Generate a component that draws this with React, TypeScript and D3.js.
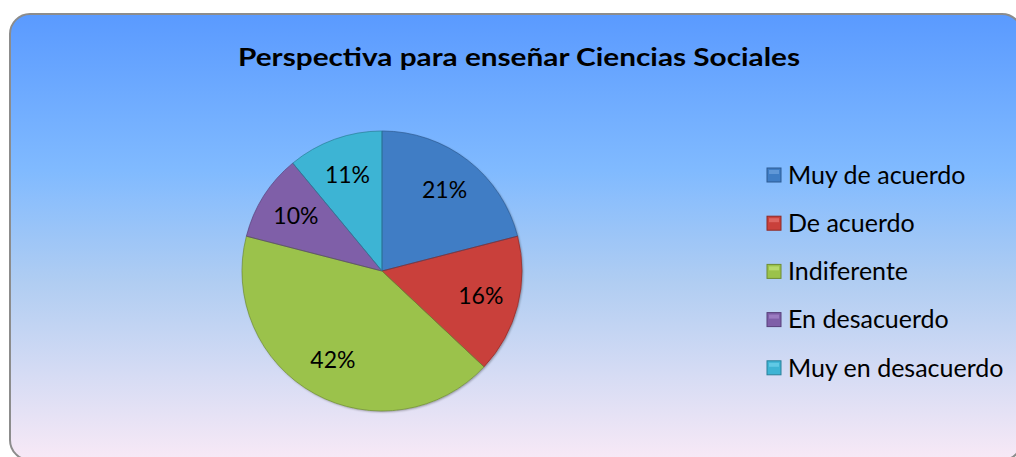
import React from "react";
import * as d3 from "d3";

const categories = ["Muy de acuerdo", "De acuerdo", "Indiferente", "En desacuerdo", "Muy en desacuerdo"];
const values = [21, 16, 42, 10, 11];
const labels = ["21%", "16%", "42%", "10%", "11%"];
const colors = ["#3F7DC5", "#C9403B", "#9BC24B", "#7F5FA8", "#3DB4D4"];
const lights = ["#6FA2DE", "#E57470", "#C2E27A", "#A688CC", "#6FD2EC"];
const darks = ["#2C5A92", "#8E2A27", "#6E8C33", "#58407A", "#2A8099"];
const title = "Perspectiva para enseñar Ciencias Sociales";

const W = 1016;
const H = 457;
const cx = 382;
const cy = 271;
const R = 140;

export default function App() {
  const pie = d3.pie<number>().sort(null).value((d) => d);
  const arcs = pie(values);
  const arc = d3.arc<d3.PieArcDatum<number>>().innerRadius(0).outerRadius(R);
  const labelArc = d3.arc<d3.PieArcDatum<number>>().innerRadius(102).outerRadius(102);
  const font = "Lato, 'Open Sans', sans-serif";
  return (
    <svg width={W} height={H} style={{ position: "absolute", left: 0, top: 0 }}>
      <defs>
        <linearGradient id="bg" x1="0" y1="0" x2="0" y2="1">
          <stop offset="0" stopColor="#5A9AFF" />
          <stop offset="0.35" stopColor="#80BAFF" />
          <stop offset="0.6" stopColor="#B0CDF2" />
          <stop offset="1" stopColor="#F8E9F6" />
        </linearGradient>
        {colors.map((c, i) => (
          <radialGradient key={i} id={`g${i}`} cx={cx} cy={cy} r={R} gradientUnits="userSpaceOnUse">
            <stop offset="0" stopColor={c} />
            <stop offset="0.9" stopColor={c} />
            <stop offset="0.955" stopColor={lights[i]} />
            <stop offset="1" stopColor={c} />
          </radialGradient>
        ))}
        <filter id="sh" x="-10%" y="-10%" width="120%" height="120%">
          <feDropShadow dx="1" dy="1" stdDeviation="1.2" floodColor="#000" floodOpacity="0.35" />
        </filter>
      </defs>
      <rect x={10} y={14} width={1012} height={446} rx={20} ry={20} fill="url(#bg)" stroke="#8C8C8C" strokeWidth={2} />
      <text x={519} y={66} textAnchor="middle" fontFamily={font} fontWeight="bold" fontSize={24} fill="#000" textLength={562} lengthAdjust="spacingAndGlyphs">
        {title}
      </text>
      <g filter="url(#sh)">
        {arcs.map((a, i) => (
          <path key={i} d={arc(a) || ""} transform={`translate(${cx},${cy})`} fill={`url(#g${i})`} />
        ))}
      </g>
      <g transform={`translate(${cx},${cy})`}>
        {arcs.map((a, i) => (
          <path key={i} d={arc(a) || ""} fill="none" stroke={darks[i]} strokeOpacity={0.7} strokeWidth={1} />
        ))}
        {arcs.map((a, i) => {
          const [x, y] = labelArc.centroid(a);
          return (
            <text key={i} x={x} y={y} dy="0.35em" textAnchor="middle" fontFamily={font} fontSize={23} fill="#000">
              {labels[i]}
            </text>
          );
        })}
      </g>
      <g>
        {categories.map((c, i) => {
          const y = 175 + i * 48.2;
          return (
            <g key={i}>
              <rect x={767} y={y - 7} width={14} height={14} fill={colors[i]} stroke={darks[i]} strokeWidth={1} />
              <rect x={769} y={y - 5} width={10} height={4} fill={lights[i]} opacity={0.7} />
              <text x={788} y={y} dy="0.35em" fontFamily={font} fontSize={25} fill="#000">
                {c}
              </text>
            </g>
          );
        })}
      </g>
    </svg>
  );
}
